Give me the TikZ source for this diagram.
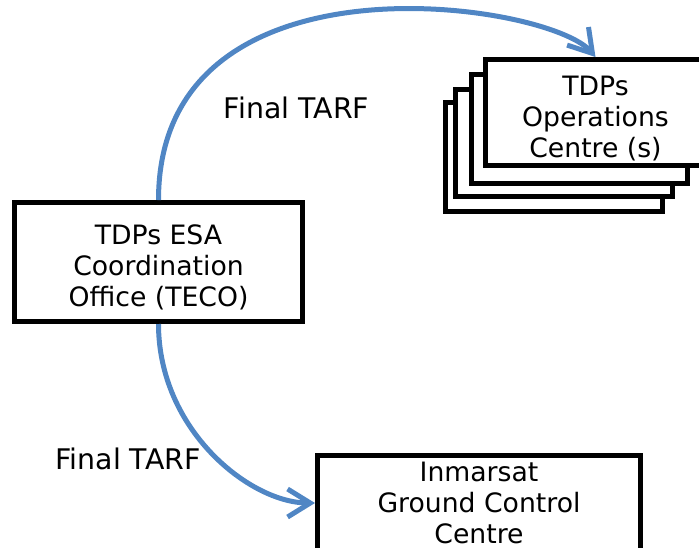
\documentclass[tikz,border=0pt]{standalone}
\usepackage{fontspec}
\setmainfont{DejaVu Sans}
\usetikzlibrary{arrows.meta}
\usetikzlibrary{shapes}
\usetikzlibrary{scopes}
\definecolor{Flow Blue}{RGB}{80,134,196}
% Extra room above the first line, to push the text a bit down
\newcommand{\TopRoom}[1]{\rule{0pt}{#1}}

\begin{document}
\begin{tikzpicture}[x=0.75pt,y=-0.75pt,
		box/.style={draw,line width=3.75pt,fill=white,align=center,
			font=\fontsize{20}{23.25}\selectfont,inner sep=0pt},
		flow/.style={draw=Flow Blue,line width=3.75pt,
			-{Straight Barb[length=17pt,width=21pt]}},
		tag/.style={font=\fontsize{21.3}{24}\selectfont,inner sep=0pt}]
		% Fixing the page to the size of the original picture
		\useasboundingbox (0,0) rectangle (699,547);
		% The three sheets stacked behind the operations centre,
		%	back one first
		\draw[line width=3.75pt,fill=white] (445.5,102.5) rectangle (662.5,211);
		\draw[line width=3.75pt,fill=white] (455.5,89.5) rectangle (672.5,196.5);
		\draw[line width=3.75pt,fill=white] (471.5,74.5) rectangle (687.5,183);
		% The front sheet and the two other boxes
		\node[box,minimum width=165pt,minimum height=79.5pt]
			(Ops Centre) at (595.5,112.5) {\TopRoom{23.6pt}TDPs\\Operations\\Centre (s)};
		\node[box,minimum width=216pt,minimum height=89.25pt]
			(ESA Office) at (158.5,262) {\TopRoom{23pt}TDPs ESA\\Coordination\\Office (TECO)};
		\node[box,minimum width=242.25pt,minimum height=71.25pt]
			(Ground Centre) at (479,503) {\TopRoom{15pt}Inmarsat\\Ground Control\\Centre};
		% Curved flows out of the office, with their labels
		\draw[flow] (ESA Office.north) .. controls (158.5,-56) and (549,2)
			.. (Ops Centre.north);
		\draw[flow] (ESA Office.south) .. controls (158.5,430) and (250,503)
			.. (Ground Centre.west);
		\node[tag] (Upper TARF) at (296.5,108) {Final TARF};
		\node[tag] (Lower TARF) at (128,459) {Final TARF};
	\end{tikzpicture}
\end{document}
